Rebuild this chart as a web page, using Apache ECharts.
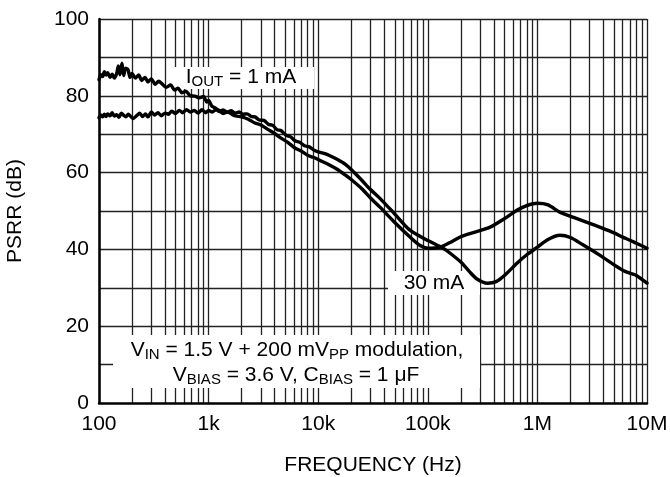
<!DOCTYPE html>
<html>
<head>
<meta charset="utf-8">
<script src="https://cdn.jsdelivr.net/npm/echarts@6/dist/echarts.min.js"></script>
<style>
  html, body { margin: 0; padding: 0; background: #fff; }
  #chart { width: 670px; height: 477px; }
</style>
</head>
<body>
<div id="chart"></div>
<script>
// ------------------------------------------------------------
// data (frequency in Hz, PSRR in dB)
// ------------------------------------------------------------

// IOUT = 1 mA
const freq1mA = [
  100, 104, 108, 112, 116, 120, 126, 132, 138, 145,
  150, 155, 162, 168, 175, 184, 192, 200, 215, 230,
  245, 263, 280, 300, 325, 350, 376, 410, 450, 490,
  526, 570, 620, 680, 751, 820, 900, 960, 1000, 1070,
  1150, 1250, 1350, 1500, 1700, 2000, 2300, 2650, 3000, 3500,
  4000, 4500, 5200, 6140, 7000, 8000, 9000, 10000, 12800, 15000,
  17600, 20000, 25000, 30000, 36600, 50000, 68800, 85000, 100000, 130000,
  160000, 200000, 270000, 370000, 500000, 650000, 800000, 1000000, 1250000, 1600000,
  2200000, 3000000, 3700000, 5000000, 6000000, 7000000, 8000000, 10000000
];
const psrr1mA = [
  84.2, 85.5, 85, 86.3, 85.4, 86, 84.8, 85.6, 84.6, 85.8,
  87.8, 85.5, 88.5, 85.3, 87.2, 86.8, 84.8, 85.8, 84.6, 85.4,
  84, 84.8, 83.6, 84.4, 83, 83.8, 83.1, 82.2, 82.8, 81.5,
  82, 80.8, 81.2, 80, 79.9, 79.5, 79.8, 78.4, 78.8, 77.3,
  76.8, 76.2, 75.4, 75.8, 74.9, 74.5, 73.9, 72.9, 72.4, 71.2,
  70.2, 69.1, 68, 66.4, 65.6, 64.5, 64, 63.4, 61.9, 60.8,
  59.4, 58.2, 55.8, 53.4, 51, 47, 43.2, 41, 40.3, 40.6,
  41.8, 43.3, 44.5, 45.8, 48, 50.2, 51.4, 52, 51.6, 49.7,
  48.2, 46.8, 45.8, 44.3, 43.2, 42.4, 41.6, 40.3
];

// IOUT = 30 mA
const freq30mA = [
  100, 104, 108, 112, 116, 120, 126, 132, 138, 145,
  152, 160, 168, 176, 185, 195, 205, 220, 235, 250,
  265, 280, 300, 320, 345, 370, 400, 430, 460, 500,
  540, 580, 630, 680, 740, 800, 870, 940, 1000, 1080,
  1170, 1260, 1360, 1480, 1600, 1750, 1900, 2050, 2250, 2450,
  2650, 2900, 3200, 3500, 3850, 4200, 4600, 5100, 5600, 6140,
  6800, 7500, 8300, 9200, 10000, 11300, 12800, 15000, 17600, 20000,
  25000, 30000, 36600, 50000, 68800, 100000, 138000, 160000, 200000, 240000,
  281000, 350000, 420000, 500000, 651000, 800000, 1000000, 1250000, 1600000, 2000000,
  2600000, 3700000, 5000000, 6000000, 7000000, 8000000, 10000000
];
const psrr30mA = [
  74.3, 75, 74.5, 75.2, 74.6, 75.3, 74.8, 75.6, 74.7, 75.1,
  74.4, 75.5, 74.9, 74.5, 75.2, 74.6, 74.1, 74.8, 75.5, 74.6,
  75.3, 74.5, 75.8, 75, 75.6, 74.8, 75.5, 75.2, 76, 75.4,
  76.2, 75.6, 76.4, 75.8, 76.2, 75.5, 76.4, 75.6, 76.2, 75.8,
  76.4, 75.9, 76.3, 75.7, 76.1, 75.5, 75.8, 75.2, 75.3, 74.6,
  74.5, 73.7, 73.6, 72.6, 72.3, 71.2, 70.9, 69.7, 69.3, 68.3,
  67.9, 67, 66.7, 65.8, 65.4, 65, 64.4, 63.4, 62.2, 60.8,
  58, 55.6, 53.3, 49.2, 45, 42.3, 40.3, 39, 36.7, 34.2,
  32.3, 31.2, 31.6, 33.2, 36.4, 38.6, 40.6, 42.6, 43.7, 43.1,
  41.2, 38.5, 36, 34.6, 33.8, 33.2, 31.2
];

// axis ticks
const decadeTicks = [100, 1000, 10000, 100000, 1000000, 10000000];
const decadeLabels = ['100', '1k', '10k', '100k', '1M', '10M'];
const minorSteps = [2, 3, 4, 5, 6, 7, 8, 9];
const hGridValues = [10, 20, 30, 40, 50, 60, 70, 80, 90, 100];

// ------------------------------------------------------------

const FONT = '"Liberation Sans", Arial, Helvetica, sans-serif';
const GRID_COLOR = '#222';

function zip(xs, ys) {
  return xs.map(function(x, i) { return [x, ys[i]]; });
}

// vertical grid: every decade plus 2..9 in between
let vGridValues = [];
decadeTicks.forEach(function(d, i) {
  vGridValues.push(d);
  if (i < decadeTicks.length - 1) {
    minorSteps.forEach(function(m) { vGridValues.push(d * m); });
  }
});

const chart = echarts.init(document.getElementById('chart'));

const subStyle = { fontSize: 15, fontFamily: FONT, fill: '#000', padding: [9, 0, 0, 0] };
const mainStyle = { fontSize: 21, fontFamily: FONT, fill: '#000' };

function labelText(text, x, y) {
  return {
    type: 'text',
    z: 8,
    silent: true,
    style: {
      text: text,
      x: x,
      y: y,
      align: 'center',
      verticalAlign: 'middle',
      textAlign: 'center',
      textVerticalAlign: 'middle',
      fill: '#000',
      font: '21px ' + FONT,
      rich: { n: mainStyle, s: subStyle }
    }
  };
}

function whiteBox(x, y, w, h) {
  return {
    type: 'rect',
    z: 3,
    silent: true,
    shape: { x: x, y: y, width: w, height: h },
    style: { fill: '#fff' }
  };
}

chart.setOption({
  animation: false,
  backgroundColor: '#fff',
  grid: { left: 99, right: 23, top: 19, bottom: 74, outerBoundsMode: 'none', containLabel: false },
  xAxis: {
    type: 'log',
    logBase: 10,
    min: 100,
    max: 10000000,
    z: 10,
    axisLine: { show: true, onZero: false, lineStyle: { color: '#000', width: 2.5 } },
    axisTick: { show: false },
    splitLine: { show: false },
    axisLabel: {
      fontSize: 21,
      fontFamily: FONT,
      color: '#000',
      margin: 11,
      formatter: function(v) {
        const i = Math.round(Math.log10(v)) - 2;
        return decadeLabels[i] !== undefined ? decadeLabels[i] : '';
      }
    },
    name: 'FREQUENCY (Hz)',
    nameLocation: 'middle',
    nameGap: 52,
    nameTextStyle: { fontSize: 21, fontFamily: FONT, color: '#000' }
  },
  yAxis: {
    type: 'value',
    min: 0,
    max: 100,
    interval: 20,
    z: 10,
    axisLine: { show: true, onZero: false, lineStyle: { color: '#000', width: 2.5 } },
    axisTick: { show: false },
    splitLine: { show: false },
    axisLabel: { fontSize: 21, fontFamily: FONT, color: '#000', margin: 10 },
    name: 'PSRR (dB)',
    nameLocation: 'middle',
    nameGap: 73,
    nameTextStyle: { fontSize: 21, fontFamily: FONT, color: '#000' }
  },
  series: [
    {
      // grid lines, drawn through the axes' own scales
      type: 'line',
      z: 1,
      silent: true,
      data: [[100, 0]],
      showSymbol: false,
      lineStyle: { opacity: 0 },
      markLine: {
        z: 1,
        silent: true,
        symbol: ['none', 'none'],
        label: { show: false },
        lineStyle: { color: GRID_COLOR, width: 1.3, type: 'solid' },
        data: vGridValues.map(function(f) { return { xAxis: f }; })
          .concat(hGridValues.map(function(v) { return { yAxis: v }; }))
      }
    },
    {
      name: '1 mA',
      type: 'line',
      z: 6,
      data: zip(freq1mA, psrr1mA),
      showSymbol: false,
      smooth: 0.25,
      lineStyle: { color: '#000', width: 3.4, join: 'round', cap: 'round' }
    },
    {
      name: '30 mA',
      type: 'line',
      z: 6,
      data: zip(freq30mA, psrr30mA),
      showSymbol: false,
      smooth: 0.25,
      lineStyle: { color: '#000', width: 3.4, join: 'round', cap: 'round' }
    }
  ],
  graphic: [
    whiteBox(170, 67, 144, 22),
    whiteBox(388, 271, 92, 24),
    whiteBox(113, 335, 367, 53),
    labelText('{n|I}{s|OUT}{n| = 1 mA}', 241, 77),
    labelText('{n|30 mA}', 434, 283),
    labelText('{n|V}{s|IN}{n| = 1.5 V + 200 mV}{s|PP}{n| modulation,}', 297, 350),
    labelText('{n|V}{s|BIAS}{n| = 3.6 V, C}{s|BIAS}{n| = 1 \u03bcF}', 296, 375)
  ]
});
</script>
</body>
</html>
